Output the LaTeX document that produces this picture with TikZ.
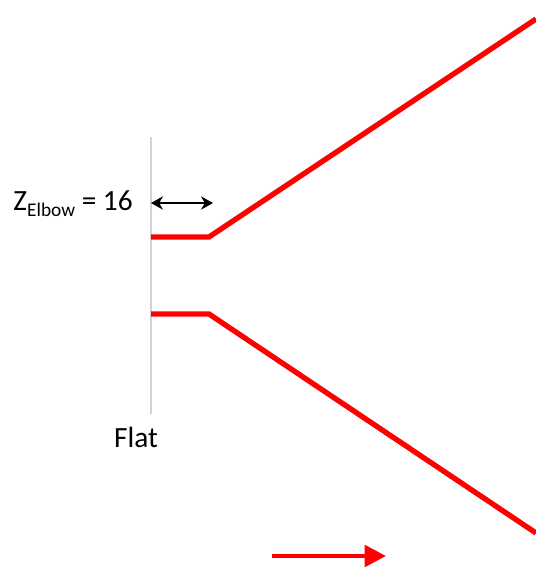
\documentclass[tikz,border=0pt]{standalone}
\usepackage{fontspec}
\setmainfont{Carlito}
\usetikzlibrary{arrows.meta}

\begin{document}
\begin{tikzpicture}[
  x=0.75pt, y=-0.75pt,
  wall/.style={draw=gray!35, line width=2.2pt},
  pipe/.style={draw=red, line width=4pt},
  lbl/.style={font=\fontsize{22}{26}\selectfont, inner sep=0pt},
  >=Stealth
]
  \useasboundingbox (0,0) rectangle (536,569);

  % flat wall
  \coordinate (wtop) at (151,137);
  \coordinate (wbot) at (151,414);
  \draw[wall] (wtop) -- (wbot);
  \node[lbl] (flat) at (136,437) {Flat};

  % pipe walls
  \coordinate (ua) at (151,237);
  \coordinate (ub) at (209,237);
  \coordinate (uc) at (536,19);
  \coordinate (la) at (151,314);
  \coordinate (lb) at (209,314);
  \coordinate (lc) at (536,533);
  \draw[pipe] (ua) -- (ub) -- (uc);
  \draw[pipe] (la) -- (lb) -- (lc);

  % elbow length
  \node[lbl, anchor=east] (zel) at (133,204)
    {Z\raisebox{-4.5pt}{\fontsize{14.5}{16}\selectfont Elbow} = 16};
  \coordinate (dl) at (151,203);
  \coordinate (dr) at (213,203);
  \draw[<->, line width=1.6pt, >={Stealth[length=9pt, width=10pt]}] (dl) -- (dr);

  % flow direction
  \coordinate (fa) at (272,556);
  \coordinate (fb) at (386,556);
  \draw[->, red, line width=3.2pt, >={Triangle[length=16pt, width=16pt]}] (fa) -- (fb);
\end{tikzpicture}
\end{document}
